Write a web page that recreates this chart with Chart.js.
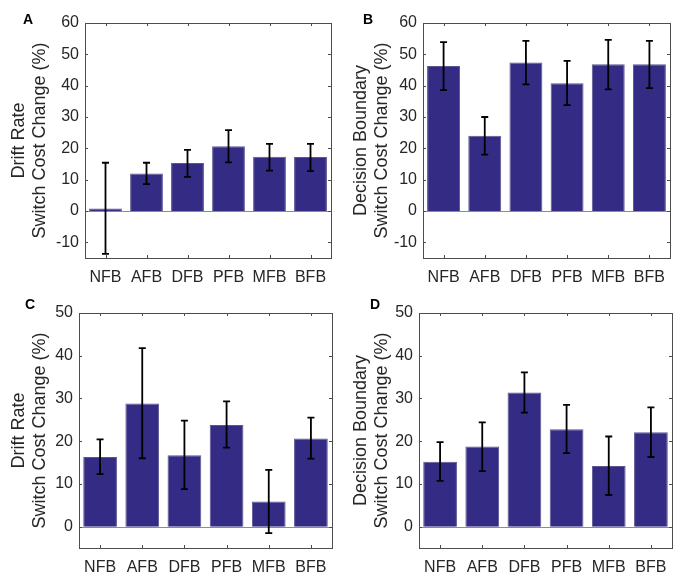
<!DOCTYPE html>
<html>
<head>
<meta charset="utf-8">
<script src="https://cdn.jsdelivr.net/npm/chart.js@4.4.1/dist/chart.umd.min.js"></script>
<style>
  body { margin: 0; background: #fff; }
  #wrap { position: relative; width: 685px; height: 579px; }
  .pane { position: absolute; }
  .letter { position: absolute; font: bold 14px "Liberation Sans", Arial, sans-serif; color: #000; }
</style>
</head>
<body>
<div id="wrap">
  <div class="pane" style="left:0;top:0;width:342px;height:290px"><canvas id="cA"></canvas></div>
  <div class="pane" style="left:342px;top:0;width:343px;height:290px"><canvas id="cB"></canvas></div>
  <div class="pane" style="left:0;top:290px;width:342px;height:289px"><canvas id="cC"></canvas></div>
  <div class="pane" style="left:342px;top:290px;width:343px;height:289px"><canvas id="cD"></canvas></div>
  <div class="letter" style="left:23px;top:11px">A</div>
  <div class="letter" style="left:363px;top:11px">B</div>
  <div class="letter" style="left:25px;top:296px">C</div>
  <div class="letter" style="left:370px;top:296px">D</div>
</div>
<script>
// conditions on the x axis
var groups = ["NFB", "AFB", "DFB", "PFB", "MFB", "BFB"];

// tick labels
var ticksTop = [-10, 0, 10, 20, 30, 40, 50, 60];
var ticksBottom = [0, 10, 20, 30, 40, 50];

// panel A: drift rate (top row)
var driftA = [0.8, 12.0, 15.3, 20.7, 17.3, 17.2];
var driftALow = [-13.7, 8.6, 10.9, 15.5, 12.9, 12.7];
var driftAHigh = [15.4, 15.4, 19.5, 25.8, 21.4, 21.4];

// panel B: decision boundary (top row)
var boundB = [46.3, 24.0, 47.4, 40.8, 46.8, 46.8];
var boundBLow = [38.6, 18.0, 40.4, 33.8, 38.8, 39.2];
var boundBHigh = [53.9, 30.0, 54.3, 47.9, 54.6, 54.3];

// panel C: drift rate (bottom row)
var driftC = [16.3, 28.8, 16.7, 23.8, 5.9, 20.6];
var driftCLow = [12.3, 16.0, 8.8, 18.5, -1.5, 15.9];
var driftCHigh = [20.4, 41.8, 24.8, 29.3, 13.3, 25.5];

// panel D: decision boundary (bottom row)
var boundD = [15.2, 18.75, 31.4, 22.8, 14.2, 22.1];
var boundDLow = [10.7, 13.0, 26.7, 17.2, 7.4, 16.3];
var boundDHigh = [19.8, 24.4, 36.1, 28.5, 21.1, 27.9];

var barColor = "#342b85";
var font = "'Liberation Sans', Arial, sans-serif";

// matlab style box, inward ticks, zero baseline and error bars
var matlabPlugin = {
  id: "matlab",
  afterDatasetsDraw: function (chart) {
    var ctx = chart.ctx;
    var a = chart.chartArea;
    var x = chart.scales.x, y = chart.scales.y;
    var ds = chart.data.datasets[0];

    // baseline at zero
    ctx.save();
    ctx.strokeStyle = "#8c8c8c";
    ctx.lineWidth = 1;
    var y0 = Math.round(y.getPixelForValue(0)) + 0.5;
    ctx.beginPath();
    ctx.moveTo(a.left, y0);
    ctx.lineTo(a.right, y0);
    ctx.stroke();

    // error bars
    ctx.strokeStyle = "#000";
    ctx.lineWidth = 1.8;
    for (var i = 0; i < ds.data.length; i++) {
      var px = x.getPixelForValue(i);
      var lo = y.getPixelForValue(ds.low[i]);
      var hi = y.getPixelForValue(ds.high[i]);
      ctx.beginPath();
      ctx.moveTo(px, lo); ctx.lineTo(px, hi);
      ctx.moveTo(px - 3.5, lo); ctx.lineTo(px + 3.5, lo);
      ctx.moveTo(px - 3.5, hi); ctx.lineTo(px + 3.5, hi);
      ctx.stroke();
    }

    // box
    ctx.strokeStyle = "#4d4d4d";
    ctx.lineWidth = 1;
    ctx.strokeRect(Math.round(a.left) + 0.5, Math.round(a.top) + 0.5,
      Math.round(a.right - a.left), Math.round(a.bottom - a.top));

    // inward ticks
    ctx.beginPath();
    x.ticks.forEach(function (t, k) {
      var px = Math.round(x.getPixelForTick(k)) + 0.5;
      ctx.moveTo(px, a.bottom); ctx.lineTo(px, a.bottom - 3);
      ctx.moveTo(px, a.top); ctx.lineTo(px, a.top + 3);
    });
    y.ticks.forEach(function (t, k) {
      var py = Math.round(y.getPixelForTick(k)) + 0.5;
      ctx.moveTo(a.left, py); ctx.lineTo(a.left + 3, py);
      ctx.moveTo(a.right, py); ctx.lineTo(a.right - 3, py);
    });
    ctx.stroke();
    ctx.restore();
  }
};

function makePanel(id, values, low, high, title, yMin, yMax, yTicks, pad, yWidth, xHeight) {
  new Chart(id, {
    type: "bar",
    data: {
      labels: groups,
      datasets: [{
        data: values,
        low: low,
        high: high,
        backgroundColor: barColor,
        borderColor: "#5b5690",
        borderWidth: 1,
        barPercentage: 0.8,
        categoryPercentage: 1.0
      }]
    },
    options: {
      responsive: true,
      maintainAspectRatio: false,
      animation: false,
      layout: { padding: pad },
      plugins: { legend: { display: false }, tooltip: { enabled: false } },
      scales: {
        x: {
          grid: { display: false, drawTicks: false },
          border: { display: false },
          ticks: { color: "#262626", font: { family: font, size: 16 }, padding: 10, maxRotation: 0 },
          afterFit: function (s) { s.height = xHeight; }
        },
        y: {
          min: yMin,
          max: yMax,
          grid: { display: false, drawTicks: false },
          border: { display: false },
          ticks: { color: "#262626", font: { family: font, size: 16 }, padding: 6 },
          afterBuildTicks: function (s) {
            s.ticks = yTicks.map(function (v) { return { value: v }; });
          },
          title: {
            display: true,
            text: title,
            color: "#262626",
            font: { family: font, size: 18 },
            padding: { top: 8, bottom: 0 }
          },
          afterFit: function (s) { s.width = yWidth; }
        }
      }
    },
    plugins: [matlabPlugin]
  });
}

makePanel("cA", driftA, driftALow, driftAHigh, ["Drift Rate", "Switch Cost Change (%)"],
  -15, 60, ticksTop, { top: 23, right: 11, left: 0, bottom: 0 }, 85, 32);
makePanel("cB", boundB, boundBLow, boundBHigh, ["Decision Boundary", "Switch Cost Change (%)"],
  -15, 60, ticksTop, { top: 23, right: 15, left: 0, bottom: 0 }, 81, 32);
makePanel("cC", driftC, driftCLow, driftCHigh, ["Drift Rate", "Switch Cost Change (%)"],
  -5, 50, ticksBottom, { top: 23, right: 10, left: 0, bottom: 0 }, 79, 31);
makePanel("cD", boundD, boundDLow, boundDHigh, ["Decision Boundary", "Switch Cost Change (%)"],
  -5, 50, ticksBottom, { top: 23, right: 13, left: 0, bottom: 0 }, 77, 31);
</script>
</body>
</html>
